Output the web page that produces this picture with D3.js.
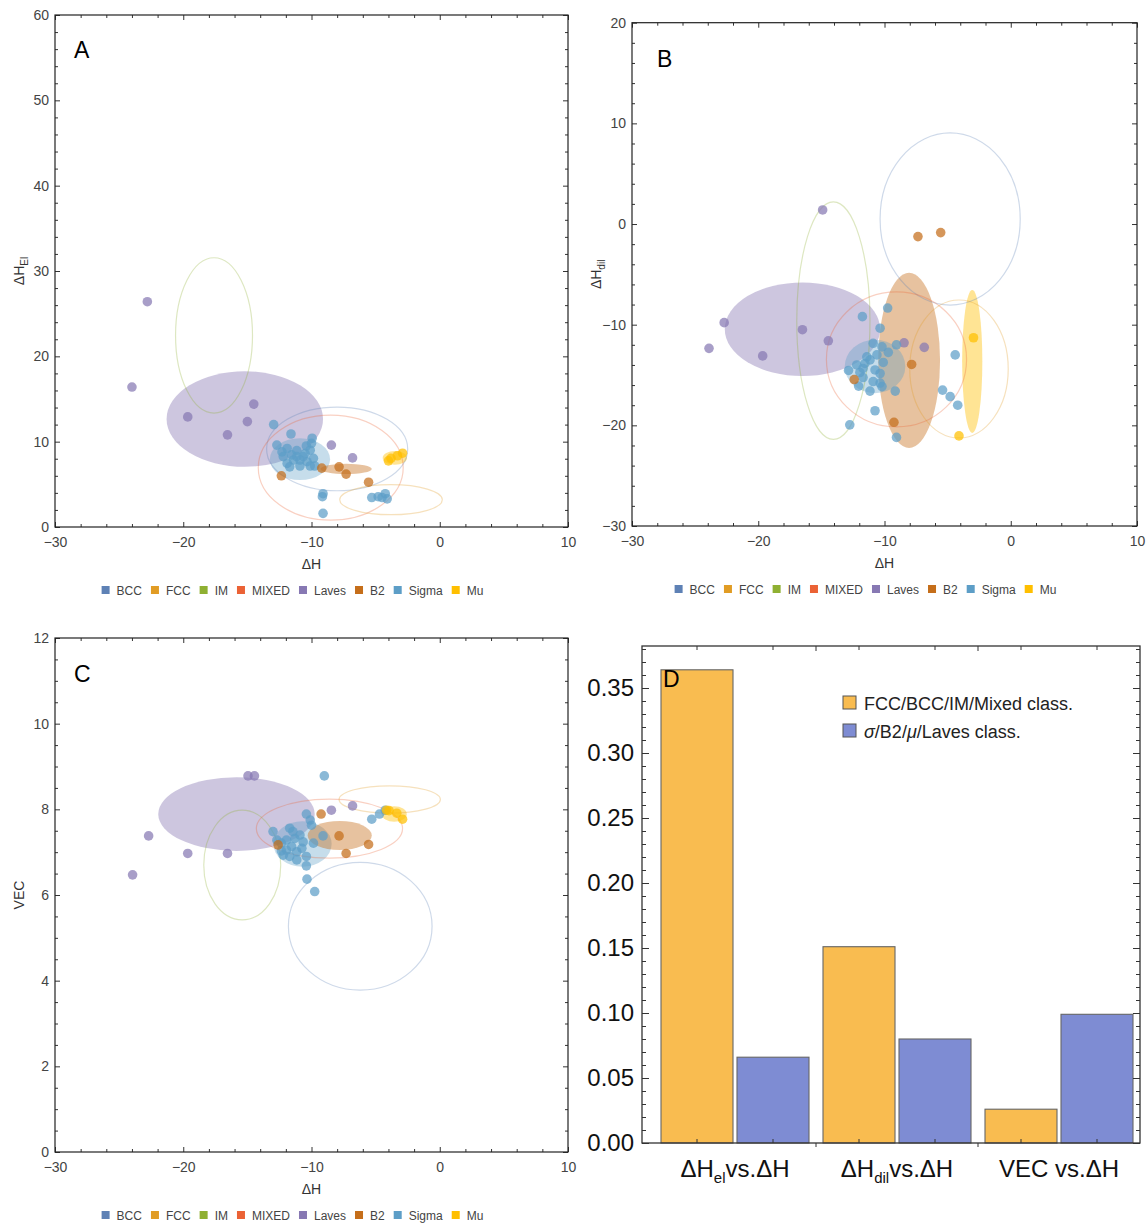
<!DOCTYPE html>
<html>
<head>
<meta charset="utf-8">
<script src="https://cdn.jsdelivr.net/npm/d3@7"></script>
<style>
  body { margin: 0; background: #fff; }
  svg text { font-family: "Liberation Sans", Arial, sans-serif; }
</style>
</head>
<body>
<svg id="chart" width="1147" height="1224"></svg>
<script>
// classes and colours (legend order)
var classes = ["BCC", "FCC", "IM", "MIXED", "Laves", "B2", "Sigma", "Mu"];
var classColors = ["#5E81B5", "#E19C24", "#8FB032", "#EB6235", "#8778B3", "#C56E1A", "#5D9EC7", "#FFBF00"];
var filledClasses = ["Laves", "B2", "Sigma", "Mu"];

// Panel A : dH_el vs dH
var lavesA = [[-22.8, 26.4], [-24.0, 16.4], [-19.65, 12.9], [-14.5, 14.4], [-15.0, 12.35], [-16.55, 10.8], [-8.45, 9.6], [-6.8, 8.1]];
var sigmaA = [[-12.95, 12.0], [-11.6, 10.9], [-9.95, 10.4], [-12.7, 9.6], [-12.3, 8.8], [-11.9, 9.2], [-11.15, 8.95], [-10.4, 9.5],
  [-10.1, 9.0], [-10.65, 8.25], [-11.4, 7.85], [-11.9, 7.45], [-11.7, 7.05], [-10.9, 7.15], [-10.35, 7.65], [-9.85, 8.05],
  [-10.1, 7.15], [-11.15, 8.25], [-12.2, 8.25], [-9.75, 7.15], [-10.5, 8.6], [-11.55, 8.45], [-10.0, 9.8], [-10.9, 7.85],
  [-9.1, 3.9], [-9.15, 3.55], [-9.1, 1.6], [-5.3, 3.45], [-4.8, 3.55], [-4.25, 3.9], [-4.1, 3.3], [-4.5, 3.45]];
var b2A = [[-12.35, 6.0], [-9.2, 6.9], [-7.85, 7.05], [-7.3, 6.2], [-5.55, 5.25]];
var muA = [[-4.0, 7.75], [-3.8, 8.05], [-2.9, 8.65], [-3.3, 8.35]];
var ellA = [["Laves", -15.2, 12.65, 6.1, 5.6], ["Sigma", -10.9, 7.95, 2.35, 2.45], ["B2", -7.3, 6.8, 2.0, 0.6], ["Mu", -3.5, 8.1, 0.95, 0.8],
  ["IM", -17.6, 22.45, 3.0, 9.1], ["BCC", -8.0, 9.15, 5.5, 4.9], ["MIXED", -8.5, 6.95, 5.65, 6.15], ["FCC", -3.8, 3.2, 4.0, 1.76]];

// Panel B : dH_dil vs dH
var lavesB = [[-14.9, 1.4], [-22.7, -9.8], [-23.9, -12.35], [-19.65, -13.1], [-16.5, -10.5], [-14.45, -11.6], [-8.45, -11.8], [-6.85, -12.25]];
var sigmaB = [[-9.75, -8.35], [-11.75, -9.2], [-10.35, -10.35], [-4.4, -13.0], [-5.4, -16.5], [-4.8, -17.15], [-4.2, -18.0],
  [-10.75, -18.55], [-12.75, -19.95], [-9.05, -21.2], [-10.9, -11.85], [-10.2, -12.2], [-9.7, -12.75], [-9.05, -12.0],
  [-10.1, -13.75], [-11.15, -13.5], [-11.55, -13.85], [-12.2, -14.0], [-12.85, -14.55], [-11.7, -14.35], [-11.95, -14.75],
  [-10.35, -14.85], [-10.75, -14.5], [-11.7, -15.25], [-12.05, -16.1], [-11.15, -16.6], [-10.2, -16.15], [-10.35, -15.8],
  [-9.15, -16.6], [-10.9, -15.65], [-11.4, -13.2], [-10.6, -13.0]];
var b2B = [[-7.35, -1.25], [-5.55, -0.85], [-7.85, -13.95], [-12.4, -15.45], [-9.25, -19.7]];
var muB = [[-2.95, -11.3], [-4.1, -21.05]];
var ellB = [["Laves", -16.5, -10.45, 6.15, 4.65], ["B2", -8.05, -13.55, 2.45, 8.7], ["Sigma", -10.75, -14.15, 2.4, 2.65], ["Mu", -3.05, -13.65, 0.8, 7.1],
  ["IM", -14.05, -9.6, 2.9, 11.8], ["BCC", -4.8, 0.5, 5.55, 8.55], ["MIXED", -9.05, -13.45, 5.55, 6.7], ["FCC", -4.1, -14.4, 3.9, 6.85]];

// Panel C : VEC vs dH
var lavesC = [[-14.95, 8.78], [-14.45, 8.78], [-22.7, 7.38], [-23.95, 6.47], [-19.65, 6.97], [-16.55, 6.97], [-8.45, 7.98], [-6.8, 8.08]];
var sigmaC = [[-9.0, 8.78], [-10.35, 6.37], [-9.75, 6.08], [-5.3, 7.77], [-4.7, 7.89], [-4.25, 7.98], [-9.1, 7.38],
  [-10.4, 7.89], [-10.1, 7.75], [-10.0, 7.63], [-13.0, 7.48], [-12.7, 7.28], [-12.35, 7.21], [-11.7, 7.56], [-11.45, 7.48],
  [-11.95, 7.28], [-11.3, 7.32], [-10.9, 7.4], [-10.65, 7.24], [-12.35, 7.03], [-11.95, 7.05], [-11.55, 7.13], [-11.15, 7.01],
  [-10.75, 7.09], [-10.4, 6.9], [-11.15, 6.82], [-10.4, 6.68], [-9.85, 7.21], [-11.7, 6.9], [-12.2, 6.93]];
var b2C = [[-9.25, 7.89], [-7.85, 7.38], [-5.55, 7.18], [-7.3, 6.97], [-12.6, 7.17]];
var muC = [[-4.15, 7.98], [-3.95, 7.97], [-3.35, 7.91], [-2.9, 7.77]];
var ellC = [["Laves", -15.85, 7.89, 6.1, 0.86], ["Sigma", -10.7, 7.19, 2.27, 0.53], ["B2", -7.8, 7.39, 2.5, 0.34], ["Mu", -3.55, 7.89, 0.98, 0.18],
  ["IM", -15.4, 6.7, 3.0, 1.28], ["BCC", -6.2, 5.27, 5.6, 1.49], ["MIXED", -8.6, 7.55, 5.7, 0.69], ["FCC", -3.9, 8.23, 3.95, 0.32]];

// Panel D : bar chart
var barCategories = ["el", "dil", "vec"];
var barSeries = ["FCC/BCC/IM/Mixed class.", "σ/B2/μ/Laves class."];
var ssValues = [0.364, 0.151, 0.026];
var imValues = [0.066, 0.080, 0.099];
var dTicks = [0, 0.05, 0.10, 0.15, 0.20, 0.25, 0.30, 0.35];

var svg = d3.select("#chart");
var color = d3.scaleOrdinal().domain(classes).range(classColors);

function scatterPanel(p) {
  var x = d3.scaleLinear().domain([-30, 10]).range([p.x0, p.x1]);
  var y = d3.scaleLinear().domain(p.yDomain).range([p.y1, p.y0]);
  var g = svg.append("g");

  // filled ellipses first, outlines on top
  var ell = p.ellipses.slice().sort(function(a, b) {
    return (filledClasses.indexOf(b[0]) >= 0) - (filledClasses.indexOf(a[0]) >= 0);
  });
  ell.forEach(function(e) {
    var el = g.append("ellipse")
      .attr("cx", x(e[1])).attr("cy", y(e[2]))
      .attr("rx", x(e[1] + e[3]) - x(e[1]))
      .attr("ry", y(e[2]) - y(e[2] + e[4]));
    if (filledClasses.indexOf(e[0]) >= 0) {
      el.attr("fill", color(e[0])).attr("fill-opacity", e[0] == "Sigma" ? 0.35 : 0.42);
    } else {
      el.attr("fill", "none").attr("stroke", color(e[0])).attr("stroke-opacity", 0.3).attr("stroke-width", 1.2);
    }
  });

  // points
  p.points.forEach(function(s) {
    g.selectAll(null).data(s[1]).enter().append("circle")
      .attr("cx", function(d) { return x(d[0]); })
      .attr("cy", function(d) { return y(d[1]); })
      .attr("r", 4.8)
      .attr("fill", color(s[0]))
      .attr("fill-opacity", 0.72);
  });

  // frame ticks on four sides
  function axis(gen, scale, vals, size, labels, tr, pad) {
    var a = gen(scale).tickValues(vals).tickSize(size).tickPadding(pad)
      .tickFormat(labels ? d3.format("") : "");
    var ag = g.append("g").attr("transform", tr).call(a);
    ag.select(".domain").remove();
    ag.selectAll("line").attr("stroke", "#333");
    ag.selectAll("text").attr("fill", "#444").attr("font-size", 14)
      .attr("font-family", '"Liberation Sans", Arial, sans-serif');
  }
  var xMaj = d3.range(-30, 10.001, 10), xMin = d3.range(-28, 10, 2).filter(function(v) { return v % 10 != 0; });
  var yMaj = d3.range(p.yDomain[0], p.yDomain[1] + 0.001, p.yStep);
  var yMin = d3.range(p.yDomain[0], p.yDomain[1], p.yMinor).filter(function(v) { return Math.abs(v / p.yStep - Math.round(v / p.yStep)) > 1e-6; });
  axis(d3.axisBottom, x, xMaj, -5, true, "translate(0," + p.y1 + ")", 10);
  axis(d3.axisBottom, x, xMin, -3, false, "translate(0," + p.y1 + ")", 10);
  axis(d3.axisTop, x, xMaj, -5, false, "translate(0," + p.y0 + ")", 6);
  axis(d3.axisTop, x, xMin, -3, false, "translate(0," + p.y0 + ")", 6);
  axis(d3.axisLeft, y, yMaj, -5, true, "translate(" + p.x0 + ",0)", 6);
  axis(d3.axisLeft, y, yMin, -3, false, "translate(" + p.x0 + ",0)", 6);
  axis(d3.axisRight, y, yMaj, -5, false, "translate(" + p.x1 + ",0)", 6);
  axis(d3.axisRight, y, yMin, -3, false, "translate(" + p.x1 + ",0)", 6);

  g.append("rect").attr("x", p.x0).attr("y", p.y0)
    .attr("width", p.x1 - p.x0).attr("height", p.y1 - p.y0)
    .attr("fill", "none").attr("stroke", "#222").attr("stroke-width", 1.2);

  // axis titles
  g.append("text").attr("x", (p.x0 + p.x1) / 2).attr("y", p.y1 + 42)
    .attr("text-anchor", "middle").attr("font-size", 14).attr("fill", "#333").text("ΔH");
  var yt = g.append("text").attr("transform", "translate(" + (p.x0 - 31) + "," + ((p.y0 + p.y1) / 2) + ") rotate(-90)")
    .attr("text-anchor", "middle").attr("font-size", 14).attr("fill", "#333");
  yt.append("tspan").text(p.yTitle);
  if (p.ySub) yt.append("tspan").attr("font-size", 10).attr("dy", 4).text(p.ySub);

  // panel letter
  g.append("text").attr("x", p.x0 + p.letterDx).attr("y", p.y0 + p.letterDy)
    .attr("font-size", 23).attr("fill", "#000").text(p.letter);

  // legend row
  var row = g.append("g");
  var xpos = 0;
  classes.forEach(function(c) {
    row.append("rect").attr("x", xpos).attr("y", -4).attr("width", 8).attr("height", 8).attr("fill", color(c));
    var t = row.append("text").attr("x", xpos + 15).attr("y", 4.5)
      .attr("font-size", 12).attr("fill", "#444").text(c);
    xpos += 15 + t.node().getComputedTextLength() + 9;
  });
  row.attr("transform", "translate(" + ((p.x0 + p.x1) / 2 - 19 - (xpos - 9) / 2) + "," + (p.y1 + 63) + ")");
}

scatterPanel({ x0: 55, x1: 568, y0: 15, y1: 527, yDomain: [0, 60], yStep: 10, yMinor: 2,
  yTitle: "ΔH", ySub: "El", letter: "A", letterDx: 19, letterDy: 43,
  ellipses: ellA, points: [["Laves", lavesA], ["Sigma", sigmaA], ["B2", b2A], ["Mu", muA]] });
scatterPanel({ x0: 632, x1: 1137, y0: 22.7, y1: 526, yDomain: [-30, 20], yStep: 10, yMinor: 2,
  yTitle: "ΔH", ySub: "dil", letter: "B", letterDx: 25, letterDy: 44,
  ellipses: ellB, points: [["Laves", lavesB], ["Sigma", sigmaB], ["B2", b2B], ["Mu", muB]] });
scatterPanel({ x0: 55, x1: 568, y0: 638, y1: 1152, yDomain: [0, 12], yStep: 2, yMinor: 0.5,
  yTitle: "VEC", ySub: null, letter: "C", letterDx: 19, letterDy: 44,
  ellipses: ellC, points: [["Laves", lavesC], ["Sigma", sigmaC], ["B2", b2C], ["Mu", muC]] });

// ---- Panel D ----
var dL = 642, dR = 1140, dT = 646, dB = 1143;
var yD = d3.scaleLinear().domain([0, 0.05]).range([dB, dB - 65]);
var xG = d3.scaleBand().domain(barCategories).range([654, 1140]).paddingInner(14 / 162).paddingOuter(7 / 162);
var xS = d3.scaleBand().domain([0, 1]).range([0, xG.bandwidth()]).paddingInner(4 / 76);
var barColors = ["#F9BC50", "#7E8CD3"];
var gD = svg.append("g");

barCategories.forEach(function(c, i) {
  [ssValues[i], imValues[i]].forEach(function(v, j) {
    gD.append("rect")
      .attr("x", xG(c) + xS(j)).attr("y", yD(v))
      .attr("width", xS.bandwidth()).attr("height", yD(0) - yD(v))
      .attr("fill", barColors[j]).attr("stroke", "#666").attr("stroke-width", 1.1);
  });
});

var yMajD = dTicks;
var yMinD = d3.range(0.01, 0.381, 0.01).filter(function(v) { return Math.round(v * 100) % 5 != 0; });
function dAxis(gen, vals, size, labels, tr) {
  var a = gen(yD).tickValues(vals).tickSize(size).tickPadding(8).tickFormat(labels ? d3.format(".2f") : "");
  var ag = gD.append("g").attr("transform", tr).call(a);
  ag.select(".domain").remove();
  ag.selectAll("line").attr("stroke", "#333");
  ag.selectAll("text").attr("fill", "#111").attr("font-size", 24)
    .attr("font-family", '"Liberation Sans", Arial, sans-serif');
}
dAxis(d3.axisLeft, yMajD, -7, true, "translate(" + dL + ",0)");
dAxis(d3.axisLeft, yMinD, -4, false, "translate(" + dL + ",0)");
dAxis(d3.axisRight, yMajD, -7, false, "translate(" + dR + ",0)");
dAxis(d3.axisRight, yMinD, -4, false, "translate(" + dR + ",0)");

// x ticks at bar centres and group boundaries
barCategories.forEach(function(c, i) {
  [0, 1].forEach(function(j) {
    var cx = xG(c) + xS(j) + xS.bandwidth() / 2;
    gD.append("line").attr("x1", cx).attr("x2", cx).attr("y1", dB).attr("y2", dB - 4).attr("stroke", "#333");
    gD.append("line").attr("x1", cx).attr("x2", cx).attr("y1", dT).attr("y2", dT + 4).attr("stroke", "#333");
  });
  if (i > 0) {
    var sx = xG(c) - (xG.step() - xG.bandwidth()) / 2;
    gD.append("line").attr("x1", sx).attr("x2", sx).attr("y1", dB).attr("y2", dB + 4).attr("stroke", "#333");
    gD.append("line").attr("x1", sx).attr("x2", sx).attr("y1", dT).attr("y2", dT + 5).attr("stroke", "#333");
  }
});

gD.append("rect").attr("x", dL).attr("y", dT).attr("width", dR - dL).attr("height", dB - dT)
  .attr("fill", "none").attr("stroke", "#333").attr("stroke-width", 1.3);

// category labels
var catLabels = [["ΔH", "el", "vs.ΔH"], ["ΔH", "dil", "vs.ΔH"], ["VEC vs.ΔH", null, null]];
barCategories.forEach(function(c, i) {
  var t = gD.append("text").attr("x", xG(c) + xG.bandwidth() / 2).attr("y", 1177)
    .attr("text-anchor", "middle").attr("font-size", 24).attr("fill", "#111");
  t.append("tspan").text(catLabels[i][0]);
  if (catLabels[i][1]) {
    t.append("tspan").attr("font-size", 15).attr("dy", 6).text(catLabels[i][1]);
    t.append("tspan").attr("dy", -6).text(catLabels[i][2]);
  }
});

gD.append("text").attr("x", 663).attr("y", 687).attr("font-size", 23).attr("fill", "#000").text("D");

// legend
barSeries.forEach(function(s, j) {
  var ly = 703 + j * 28;
  gD.append("rect").attr("x", 843).attr("y", ly - 7).attr("width", 13).attr("height", 13)
    .attr("fill", barColors[j]).attr("stroke", "#555");
  var t = gD.append("text").attr("x", 864).attr("y", ly + 6.5).attr("font-size", 18).attr("fill", "#222");
  if (j == 0) t.text(s);
  else {
    t.append("tspan").attr("font-style", "italic").text("σ");
    t.append("tspan").text("/B2/");
    t.append("tspan").attr("font-style", "italic").text("μ");
    t.append("tspan").text("/Laves class.");
  }
});
</script>
</body>
</html>
